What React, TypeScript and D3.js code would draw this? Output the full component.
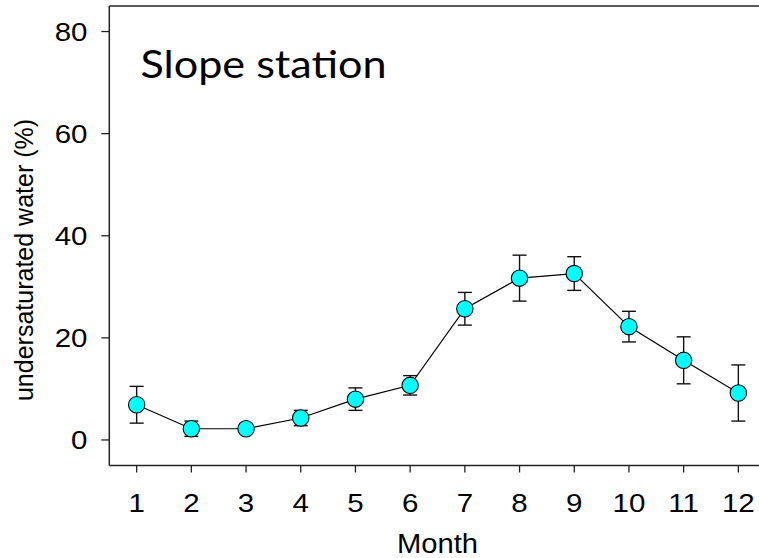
import React, { useEffect, useRef } from "react";
import * as d3 from "d3";

// Monthly share of undersaturated water at the slope station (mean ± error)
const months = [1, 2, 3, 4, 5, 6, 7, 8, 9, 10, 11, 12];
const meanValues = [6.9, 2.2, 2.2, 4.3, 8.0, 10.7, 25.7, 31.7, 32.6, 22.2, 15.6, 9.2];
const errorValues = [3.6, 1.5, 0.9, 1.5, 2.2, 1.9, 3.2, 4.5, 3.3, 3.0, 4.6, 5.5];
const yTicks = [0, 20, 40, 60, 80];

const W = 759;
const H = 558;
const FONT = "'Liberation Sans', Arial, sans-serif";

export default function App() {
  const ref = useRef<SVGSVGElement | null>(null);

  useEffect(() => {
    const svg = d3.select(ref.current);
    svg.selectAll("*").remove();

    const x = d3.scaleLinear().domain([0.5, 12.5]).range([109.3, 765.7]);
    const y = d3.scaleLinear().domain([-5, 85]).range([465.5, 6]);

    const axisColor = "#222";

    // frame: left, top and bottom edges
    const frame = svg.append("g").attr("stroke", axisColor).attr("stroke-width", 1.5).attr("fill", "none");
    frame.append("line").attr("x1", x(0.5)).attr("x2", x(0.5)).attr("y1", y(85)).attr("y2", y(-5));
    frame.append("line").attr("x1", x(0.5)).attr("x2", W + 10).attr("y1", y(85)).attr("y2", y(85));
    frame.append("line").attr("x1", x(0.5)).attr("x2", W + 10).attr("y1", y(-5)).attr("y2", y(-5));

    // y ticks and labels
    const yg = svg.append("g");
    yTicks.forEach((t) => {
      yg.append("line")
        .attr("x1", x(0.5) - 8).attr("x2", x(0.5))
        .attr("y1", y(t)).attr("y2", y(t))
        .attr("stroke", axisColor).attr("stroke-width", 1.3);
      yg.append("text")
        .attr("transform", `translate(87.5, ${y(t) + 9}) scale(1.18, 1)`)
        .attr("text-anchor", "end")
        .attr("font-family", FONT)
        .attr("font-size", 25)
        .attr("fill", "#000")
        .text(String(t));
    });

    // x ticks and labels
    const xg = svg.append("g");
    months.forEach((m) => {
      xg.append("line")
        .attr("x1", x(m)).attr("x2", x(m))
        .attr("y1", y(-5)).attr("y2", y(-5) + 7)
        .attr("stroke", axisColor).attr("stroke-width", 1.3);
      xg.append("text")
        .attr("transform", `translate(${x(m)}, 512) scale(1.18, 1)`)
        .attr("text-anchor", "middle")
        .attr("font-family", FONT)
        .attr("font-size", 25)
        .attr("fill", "#000")
        .text(String(m));
    });

    // axis titles
    svg.append("text")
      .attr("transform", `translate(437.5, 552.5) scale(1.08, 1)`)
      .attr("text-anchor", "middle")
      .attr("font-family", FONT)
      .attr("font-size", 27)
      .attr("fill", "#000")
      .text("Month");

    svg.append("text")
      .attr("transform", `translate(33, 260) rotate(-90)`)
      .attr("text-anchor", "middle")
      .attr("font-family", FONT)
      .attr("font-size", 25)
      .attr("fill", "#000")
      .text("undersaturated water (%)");

    // panel title
    svg.append("text")
      .attr("x", 140.5)
      .attr("y", 78.3)
      .attr("font-family", "Lato, 'Open Sans', sans-serif")
      .attr("font-size", 38.5)
      .attr("textLength", 246)
      .attr("lengthAdjust", "spacingAndGlyphs")
      .attr("fill", "#000")
      .text("Slope station");

    const data = months.map((m, i) => ({ m, v: meanValues[i], e: errorValues[i] }));

    // error bars
    const eg = svg.append("g").attr("stroke", "#111").attr("stroke-width", 1.4);
    data.forEach((d) => {
      eg.append("line").attr("x1", x(d.m)).attr("x2", x(d.m)).attr("y1", y(d.v + d.e)).attr("y2", y(d.v - d.e));
      eg.append("line").attr("x1", x(d.m) - 7).attr("x2", x(d.m) + 7).attr("y1", y(d.v + d.e)).attr("y2", y(d.v + d.e));
      eg.append("line").attr("x1", x(d.m) - 7).attr("x2", x(d.m) + 7).attr("y1", y(d.v - d.e)).attr("y2", y(d.v - d.e));
    });

    // connecting line
    const line = d3.line<{ m: number; v: number }>().x((d) => x(d.m)).y((d) => y(d.v));
    svg.append("path")
      .datum(data)
      .attr("d", line)
      .attr("fill", "none")
      .attr("stroke", "#000")
      .attr("stroke-width", 1.2);

    // markers
    svg.append("g")
      .selectAll("circle")
      .data(data)
      .join("circle")
      .attr("cx", (d) => x(d.m))
      .attr("cy", (d) => y(d.v))
      .attr("r", 8.2)
      .attr("fill", "#00FFFF")
      .attr("stroke", "#000")
      .attr("stroke-width", 1.1);
  }, []);

  return (
    <svg
      ref={ref}
      width={W}
      height={H}
      style={{ position: "absolute", left: 0, top: 0, background: "#fff" }}
    />
  );
}
